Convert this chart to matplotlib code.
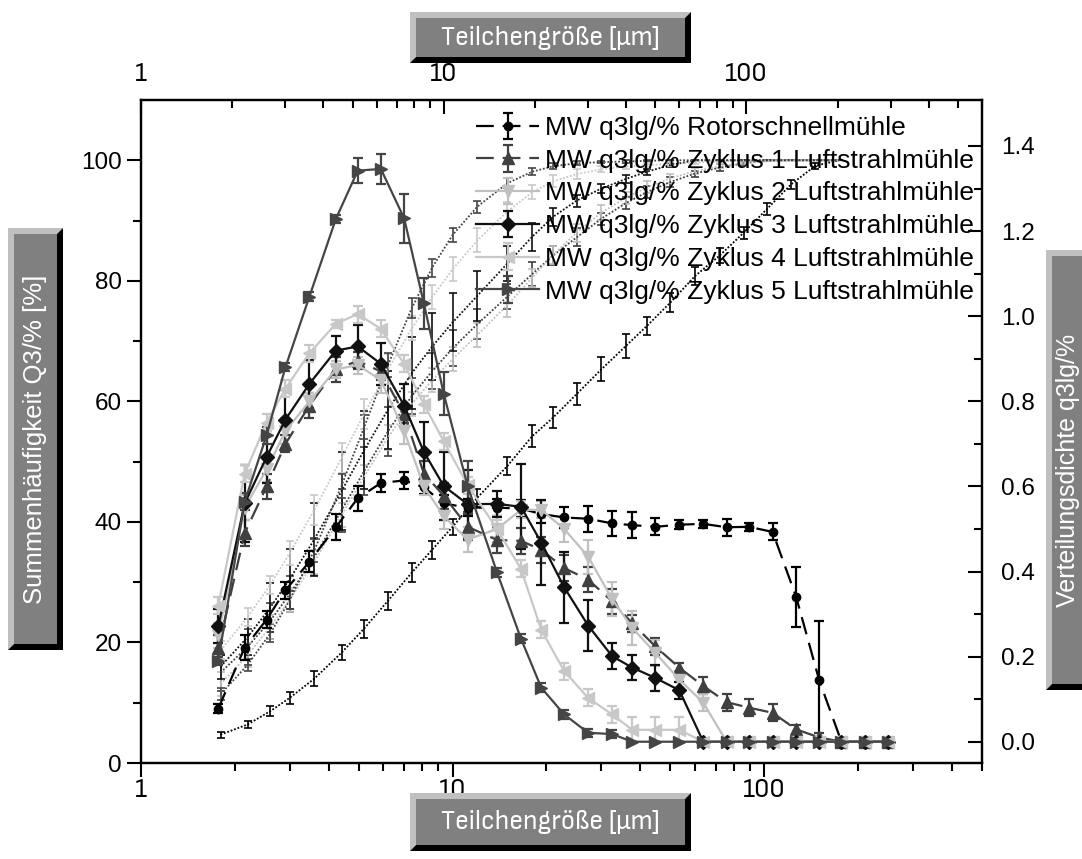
import matplotlib
matplotlib.use("Agg")
import matplotlib.pyplot as plt
from matplotlib import font_manager
from matplotlib.font_manager import FontProperties
from matplotlib.patches import Polygon, Rectangle
from matplotlib.ticker import FixedLocator, NullFormatter, LogLocator

# Fonts
names = {f.name for f in font_manager.fontManager.ttflist}
sans = "Liberation Sans" if "Liberation Sans" in names else "DejaVu Sans"
plt.rcParams["font.family"] = [sans, "DejaVu Sans"]

# a narrow sans face for the x labels, if one is installed
narrow_file = None
narrow_is_dejavu = False
for f in font_manager.fontManager.ttflist:
    if "Sans" not in f.name or "Mono" in f.name or "Serif" in f.name:
        continue
    if f.style != "normal" or f.weight not in (400, "normal"):
        continue
    if "Narrow" in f.name or "Condensed" in f.name or f.stretch in ("condensed", "semi-condensed"):
        narrow_file = f.fname
        narrow_is_dejavu = "DejaVu" in f.name
        if "Liberation" in f.name:
            break


def xfont(size):
    if narrow_file:
        return FontProperties(fname=narrow_file, size=size - (2 if narrow_is_dejavu else 0))
    return FontProperties(family=sans, size=size - 1.5)


# Particle size classes (µm)
sizes = [1.8, 2.2, 2.6, 3.0, 3.6, 4.4, 5.2, 6.2, 7.4, 8.6, 10, 12, 15, 18, 21, 25,
         30, 36, 42, 50, 60, 72, 86, 102, 122, 146, 174, 206, 246, 294]
sizes_cum = sizes[:27]

# Density q3lg (right axis, top x axis)
q_rotor = [0.078, 0.221, 0.287, 0.356, 0.423, 0.504, 0.572, 0.608, 0.614, 0.598, 0.56, 0.55,
           0.55, 0.548, 0.535, 0.527, 0.524, 0.513, 0.509, 0.505, 0.51, 0.512, 0.504, 0.505,
           0.493, 0.34, 0.144, 0, 0, 0]
q_z1 = [0.22, 0.49, 0.60, 0.70, 0.79, 0.875, 0.895, 0.87, 0.77, 0.63, 0.578, 0.505, 0.474,
        0.472, 0.451, 0.408, 0.381, 0.33, 0.278, 0.224, 0.174, 0.131, 0.093, 0.080, 0.068,
        0.029, 0.01, 0, 0, 0]
q_z2 = [0.25, 0.55, 0.64, 0.73, 0.80, 0.875, 0.885, 0.85, 0.73, 0.60, 0.53, 0.475, 0.50,
        0.545, 0.545, 0.50, 0.435, 0.335, 0.267, 0.209, 0.146, 0.092, 0, 0, 0, 0, 0, 0, 0, 0]
q_z3 = [0.271, 0.56, 0.669, 0.757, 0.841, 0.919, 0.929, 0.888, 0.790, 0.681, 0.601, 0.558,
        0.559, 0.552, 0.468, 0.363, 0.273, 0.201, 0.174, 0.150, 0.121, 0, 0, 0, 0, 0, 0, 0, 0, 0]
q_z4 = [0.32, 0.63, 0.75, 0.83, 0.913, 0.982, 1.005, 0.97, 0.888, 0.793, 0.706, 0.603, 0.50,
        0.406, 0.263, 0.166, 0.103, 0.064, 0.028, 0.028, 0.028, 0, 0, 0, 0, 0, 0, 0, 0, 0]
q_z5 = [0.19, 0.564, 0.72, 0.88, 1.046, 1.228, 1.342, 1.346, 1.23, 1.03, 0.818, 0.60, 0.398,
        0.242, 0.127, 0.064, 0.021, 0.018, 0, 0, 0, 0, 0, 0, 0, 0, 0, 0, 0, 0]

e_rotor = [0.01, 0.03, 0.02, 0.02, 0.025, 0.03, 0.03, 0.02, 0.02, 0.015, 0.02, 0.02, 0.02,
           0.02, 0.02, 0.025, 0.03, 0.03, 0.03, 0.02, 0.01, 0.01, 0.02, 0.01, 0.02, 0.07,
           0.14, 0, 0, 0]
e_z1 = [0.03, 0.03, 0.03, 0.02, 0.03, 0.03, 0.02, 0.02, 0.02, 0.03, 0.03, 0.03, 0.03, 0.03,
        0.03, 0.03, 0.03, 0.03, 0.02, 0.02, 0.01, 0.02, 0.02, 0.02, 0.02, 0.01, 0.01, 0, 0, 0]
e_z2 = [0.03, 0.03, 0.03, 0.03, 0.02, 0.02, 0.02, 0.03, 0.03, 0.02, 0.03, 0.03, 0.03, 0.02,
        0.02, 0.03, 0.04, 0.04, 0.04, 0.03, 0.02, 0.02, 0, 0, 0, 0, 0, 0, 0, 0]
e_z3 = [0.04, 0.09, 0.06, 0.07, 0.057, 0.035, 0.05, 0.05, 0.05, 0.07, 0.08, 0.08, 0.03, 0.1,
        0.10, 0.084, 0.06, 0.03, 0.03, 0.03, 0.02, 0, 0, 0, 0, 0, 0, 0, 0, 0]
e_z4 = [0.02, 0.02, 0.02, 0.02, 0.02, 0.01, 0.02, 0.02, 0.02, 0.02, 0.02, 0.02, 0.02, 0.02,
        0.02, 0.02, 0.02, 0.02, 0.03, 0.03, 0.03, 0, 0, 0, 0, 0, 0, 0, 0, 0]
e_z5 = [0.01, 0.02, 0.02, 0.01, 0.01, 0.01, 0.03, 0.035, 0.057, 0.06, 0.05, 0.06, 0.01, 0.01,
        0.01, 0.01, 0.01, 0.01, 0, 0, 0, 0, 0, 0, 0, 0, 0, 0, 0, 0]

# Cumulative Q3 (left axis, bottom x axis)
Q_rotor = [4.7, 6.4, 8.6, 10.8, 14.0, 18.3, 22.3, 26.9, 31.6, 35.4, 39.2, 44.0, 49.3, 54.2,
           57.3, 61.2, 65.3, 69.2, 72.5, 76.4, 80.8, 84.2, 88.0, 91.9, 96.0, 99.1, 100]
Q_z1 = [15.0, 19.3, 23.6, 28.0, 34.2, 41.9, 48.4, 55.0, 60.9, 65.0, 68.8, 72.8, 77.4, 81.1,
        84.2, 87.2, 90.3, 92.9, 94.7, 96.4, 97.8, 98.8, 99.5, 100, 100, 100, 100]
Q_z2 = [13.1, 17.9, 22.6, 27.1, 33.4, 41.1, 47.5, 54.0, 59.6, 63.5, 67.0, 71.0, 76.0, 80.5,
        84.3, 88.0, 91.3, 93.8, 95.5, 97.0, 98.2, 99.0, 99.5, 99.8, 100, 100, 100]
Q_z3 = [16.0, 20.9, 25.8, 30.5, 37.1, 45.1, 51.9, 58.6, 64.7, 69.1, 73.1, 77.5, 82.9, 87.3,
        90.6, 93.3, 95.3, 96.9, 98.1, 99.2, 100, 100, 100, 100, 100, 100, 100]
Q_z4 = [18.7, 24.2, 29.6, 34.8, 42.0, 50.6, 57.9, 65.3, 72.1, 77.3, 81.9, 86.7, 91.5, 94.7,
        96.5, 97.7, 98.5, 99.0, 99.2, 99.4, 99.6, 99.8, 100, 100, 100, 100, 100]
Q_z5 = [11.4, 16.3, 21.5, 27.0, 35.3, 46.0, 55.7, 66.0, 75.5, 82.2, 87.6, 92.3, 96.2, 98.1,
        99.0, 99.5, 99.7, 99.8, 99.9, 100, 100, 100, 100, 100, 100, 100, 100]

eQ_rotor = [0.5, 0.6, 0.8, 1.0, 1.2, 1.2, 1.5, 1.5, 1.5, 1.5, 1.3, 1.5, 1.5, 1.8, 1.8, 1.8,
            2.0, 2.0, 1.5, 1.5, 1.5, 1.3, 1.0, 1.0, 0.8, 0.5, 0]
eQ_z1 = [3, 3, 3, 3, 3, 3.5, 4, 4, 3, 3, 3, 2.5, 2, 2, 1.5, 1.5, 1, 1, 1, 0.8, 0.5, 0.5, 0.3,
         0, 0, 0, 0]
eQ_z2 = [2, 2, 2, 2, 2, 2, 2, 2, 2, 2, 2, 2, 2, 1.5, 1.5, 1.5, 1.2, 1, 1, 0.8, 0.5, 0.3, 0.2,
         0, 0, 0, 0]
eQ_z3 = [2, 3, 4, 5, 6, 6.5, 6.5, 6.5, 6, 5.5, 4.8, 4.1, 2.9, 2.3, 1.5, 1.0, 0.8, 0.6, 0.5,
         0.3, 0, 0, 0, 0, 0, 0, 0]
eQ_z4 = [1.5, 1.5, 1.5, 2, 2.5, 2.5, 2.5, 2.5, 2, 2, 2, 2, 1.5, 1.2, 1, 0.8, 0.5, 0.5, 0.3,
         0.3, 0.3, 0.2, 0, 0, 0, 0, 0]
eQ_z5 = [1, 1, 1.5, 1.5, 2, 2, 2, 2, 1.7, 1.5, 1.2, 1.0, 0.8, 0.6, 0.5, 0.3, 0.2, 0.2, 0.1, 0,
         0, 0, 0, 0, 0, 0, 0]

labels = ["MW q3lg/% Rotorschnellmühle",
          "MW q3lg/% Zyklus 1 Luftstrahlmühle",
          "MW q3lg/% Zyklus 2 Luftstrahlmühle",
          "MW q3lg/% Zyklus 3 Luftstrahlmühle",
          "MW q3lg/% Zyklus 4 Luftstrahlmühle",
          "MW q3lg/% Zyklus 5 Luftstrahlmühle"]

dens = [q_rotor, q_z1, q_z2, q_z3, q_z4, q_z5]
dens_err = [e_rotor, e_z1, e_z2, e_z3, e_z4, e_z5]
cums = [Q_rotor, Q_z1, Q_z2, Q_z3, Q_z4, Q_z5]
cums_err = [eQ_rotor, eQ_z1, eQ_z2, eQ_z3, eQ_z4, eQ_z5]
colors = ["#000000", "#404040", "#c0c0c0", "#111111", "#c8c8c8", "#454545"]
markers = ["o", "^", "v", "D", "<", ">"]
msizes = [6, 9, 9, 7, 9, 9]
styles = [(0, (8, 4)), (0, (8, 4)), "-", "-", "-", "-"]

W, H = 1082, 859
fig = plt.figure(figsize=(W / 100, H / 100), dpi=100)
rect = [141 / W, 1 - 763 / H, (982 - 141) / W, (763 - 100) / H]

# cumulative axes: bottom x, left y
ax = fig.add_axes(rect)
ax.set_xscale("log")
ax.set_xlim(1, 500)
ax.set_ylim(0, 110)
# density axes: top x, right y
ax2 = fig.add_axes(rect, label="density")
ax2.set_xscale("log")
ax2.set_xlim(1, 600)
ax2.set_ylim(-0.05, 1.508)
ax2.patch.set_visible(False)
ax2.xaxis.tick_top()
ax2.yaxis.tick_right()

for Q, eQ, c in zip(cums, cums_err, colors):
    ax.errorbar(sizes_cum, Q, yerr=eQ, color=c, ls=(0, (1, 1)), lw=1.3,
                elinewidth=1.2, capsize=3, capthick=1.2)

handles = []
for q, e, c, m, ms, st in zip(dens, dens_err, colors, markers, msizes, styles):
    h = ax2.errorbar(sizes, q, yerr=e, color=c, ls=st, lw=1.6, marker=m, ms=ms,
                     mec=c, mfc=c, elinewidth=1.6, capsize=3.5, capthick=1.6)
    handles.append(h)

for a in (ax, ax2):
    for s in a.spines.values():
        s.set_linewidth(1.6)

# bottom / left ticks (outward)
ax.xaxis.set_major_locator(FixedLocator([1, 10, 100]))
ax.xaxis.set_minor_locator(LogLocator(base=10, subs=range(2, 10)))
ax.xaxis.set_minor_formatter(NullFormatter())
ax.set_xticklabels(["1", "10", "100"], fontproperties=xfont(20))
ax.yaxis.set_major_locator(FixedLocator([0, 20, 40, 60, 80, 100]))
ax.yaxis.set_minor_locator(FixedLocator([10, 30, 50, 70, 90]))
ax.set_yticklabels(["0", "20", "40", "60", "80", "100"], fontsize=17.5)
ax.tick_params(which="major", direction="out", length=10, width=1.5, pad=4)
ax.tick_params(which="minor", direction="out", length=6, width=1.5)
ax.tick_params(axis="x", which="major", pad=1)

# top / right ticks (inward)
ax2.xaxis.set_major_locator(FixedLocator([1, 10, 100]))
ax2.xaxis.set_minor_locator(LogLocator(base=10, subs=range(2, 10)))
ax2.xaxis.set_minor_formatter(NullFormatter())
ax2.set_xticklabels(["1", "10", "100"], fontproperties=xfont(20))
ax2.yaxis.set_major_locator(FixedLocator([0, 0.2, 0.4, 0.6, 0.8, 1.0, 1.2, 1.4]))
ax2.yaxis.set_minor_locator(FixedLocator([0.1, 0.3, 0.5, 0.7, 0.9, 1.1, 1.3]))
ax2.set_yticklabels(["0.0", "0.2", "0.4", "0.6", "0.8", "1.0", "1.2", "1.4"], fontsize=17.5)
ax2.tick_params(which="major", direction="in", length=10, width=1.5)
ax2.tick_params(which="minor", direction="in", length=6, width=1.5)
ax2.tick_params(axis="y", which="major", pad=14)
ax2.tick_params(axis="x", which="major", pad=10)

fs_leg = 19
leg = ax2.legend(handles, labels, loc="upper left", bbox_to_anchor=(476 / W, 1 - 116 / H),
                 bbox_transform=fig.transFigure, frameon=False, fontsize=fs_leg,
                 handlelength=2.4, handletextpad=0.2, labelspacing=0.33, borderaxespad=0,
                 borderpad=0)


def box(x0, y0, x1, y1, text, rot=0, fp=None, size=16, b=6, tx=None):
    def P(x, y):
        return (x / W, 1 - y / H)
    light = [P(x0, y0), P(x1, y0), P(x1 - b, y0 + b), P(x0 + b, y0 + b), P(x0 + b, y1 - b), P(x0, y1)]
    dark = [P(x1, y0), P(x1, y1), P(x0, y1), P(x0 + b, y1 - b), P(x1 - b, y1 - b), P(x1 - b, y0 + b)]
    fig.patches.append(Polygon(light, closed=True, transform=fig.transFigure, fc="#c0c0c0", ec="none"))
    fig.patches.append(Polygon(dark, closed=True, transform=fig.transFigure, fc="#000000", ec="none"))
    fx, fy = P(x0 + b, y1 - b)
    fig.patches.append(Rectangle((fx, fy), (x1 - x0 - 2 * b) / W, (y1 - y0 - 2 * b) / H,
                                 transform=fig.transFigure, fc="#808080", ec="none"))
    cx, cy = P(tx if tx is not None else (x0 + x1) / 2, (y0 + y1) / 2)
    if fp is None:
        fp = FontProperties(family=sans, size=size)
    fig.text(cx, cy, text, rotation=rot, ha="center", va="center", color="white",
             fontproperties=fp)


box(410, 12, 691, 63, "Teilchengröße [µm]", fp=xfont(20))
box(410, 793, 691, 851, "Teilchengröße [µm]", fp=xfont(20))
box(8, 228, 63, 650, "Summenhäufigkeit Q3/% [%]", rot=90, size=18.5)
box(1046, 250, 1100, 690, "Verteilungsdichte q3lg/%", rot=90, size=18, tx=1068)

fig.savefig("out.png", dpi=100)
